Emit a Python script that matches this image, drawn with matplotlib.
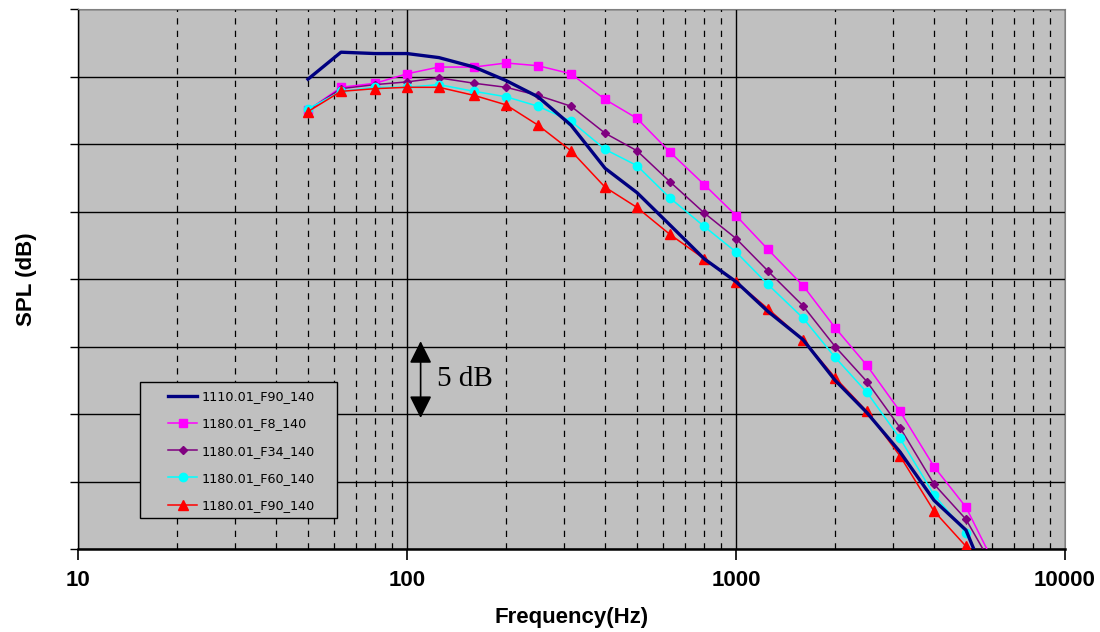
import numpy as np
import matplotlib.pyplot as plt
from matplotlib.ticker import LogLocator, NullFormatter, FixedLocator
from matplotlib.patches import Rectangle

# 1/3 octave centre frequencies (Hz)
freq = [50, 63, 80, 100, 125, 160, 200, 250, 315, 400, 500, 630, 800,
        1000, 1250, 1600, 2000, 2500, 3150, 4000, 5000, 6300]

# relative SPL in dB (axis has no absolute labels, 5 dB per grid line)
spl_1110_f90 = [34.8, 36.8, 36.7, 36.7, 36.4, 35.7, 34.7, 33.5, 31.4, 28.2, 26.4,
                24.0, 21.5, 19.8, 17.6, 15.5, 12.5, 10.1, 7.2, 3.6, 1.4, -4.5]
spl_1180_f8 = [32.5, 34.2, 34.5, 35.2, 35.7, 35.7, 36.0, 35.8, 35.2, 33.3, 31.9,
               29.4, 27.0, 24.7, 22.2, 19.5, 16.4, 13.6, 10.2, 6.1, 3.1, -1.8]
spl_1180_f34 = [32.5, 34.1, 34.4, 34.6, 34.9, 34.5, 34.2, 33.6, 32.8, 30.8, 29.5,
                27.2, 24.9, 23.0, 20.6, 18.0, 15.0, 12.4, 9.0, 4.8, 2.2, -2.1]
spl_1180_f60 = [32.6, 33.9, 34.2, 34.2, 34.4, 33.9, 33.5, 32.8, 31.7, 29.6, 28.4,
                26.0, 23.9, 22.0, 19.6, 17.1, 14.2, 11.6, 8.2, 4.0, 1.2, -3.8]
spl_1180_f90 = [32.4, 33.9, 34.1, 34.2, 34.2, 33.6, 32.9, 31.4, 29.5, 26.8, 25.3,
                23.3, 21.5, 19.8, 17.8, 15.5, 12.7, 10.2, 6.9, 2.8, 0.2, -3.8]

fig = plt.figure(figsize=(11, 6.32), dpi=100)
ax = fig.add_axes([78/1100, 83/632, 987/1100, 540/632])
ax.set_facecolor('#C0C0C0')

ax.plot(freq, spl_1110_f90, color='#000080', lw=2.4, label='1110.01_F90_140', zorder=5)
ax.plot(freq, spl_1180_f8, color='#FF00FF', lw=1.1, marker='s', ms=6, label='1180.01_F8_140', zorder=4)
ax.plot(freq, spl_1180_f34, color='#800080', lw=1.1, marker='D', ms=4.5, label='1180.01_F34_140', zorder=4)
ax.plot(freq, spl_1180_f60, color='#00FFFF', lw=1.1, marker='o', ms=6, label='1180.01_F60_140', zorder=4)
ax.plot(freq, spl_1180_f90, color='#FF0000', lw=1.1, marker='^', ms=6.5, label='1180.01_F90_140', zorder=4)

ax.set_xscale('log')
ax.set_xlim(10, 10000)
ax.set_ylim(0, 40)

ax.xaxis.set_major_locator(FixedLocator([10, 100, 1000, 10000]))
ax.xaxis.set_major_formatter(plt.FuncFormatter(lambda v, p: '%d' % v))
ax.xaxis.set_minor_locator(LogLocator(base=10, subs=np.arange(2, 10)))
ax.xaxis.set_minor_formatter(NullFormatter())
ax.yaxis.set_major_locator(FixedLocator(np.arange(0, 41, 5)))
ax.set_yticklabels([])

ax.grid(True, which='major', axis='y', color='black', lw=1.0)
ax.grid(True, which='major', axis='x', color='black', lw=1.0)
ax.grid(True, which='minor', axis='x', color='black', lw=0.9, linestyle=(0, (5, 5)))
ax.set_axisbelow(True)

ax.tick_params(axis='x', which='major', direction='out', length=8, width=1.2, pad=7)
ax.tick_params(axis='x', which='minor', length=0)
ax.tick_params(axis='y', which='major', direction='out', length=6, width=1)
for lbl in ax.get_xticklabels():
    lbl.set_fontfamily('Liberation Sans')
    lbl.set_fontweight('bold')
    lbl.set_fontsize(16)

ax.spines['bottom'].set_linewidth(1.8)
ax.spines['left'].set_linewidth(1.0)
ax.spines['top'].set_color('#808080')
ax.spines['right'].set_color('#808080')

ax.set_xlabel('Frequency(Hz)', fontsize=16, fontweight='bold',
              family='Liberation Sans', labelpad=12)
ax.set_ylabel('SPL (dB)', fontsize=16, fontweight='bold',
              family='Liberation Sans', labelpad=20)

# 5 dB scale arrow
ax.annotate('', xy=(110, 9.5), xytext=(110, 15.6),
            arrowprops=dict(arrowstyle='<|-|>', color='black', lw=1.2, mutation_scale=34))
ax.text(123, 12.6, '5 dB', fontsize=21, family='Liberation Serif', va='center', ha='left')

# legend box drawn separately so padding matches
ax.add_patch(Rectangle((62/987, 31/540), 197/987, 136/540, transform=ax.transAxes,
                       facecolor='#C0C0C0', edgecolor='black', lw=1.0, zorder=6))
leg = ax.legend(loc='upper left', bbox_to_anchor=(90/987, 159/540), fontsize=9.2,
                frameon=False, handlelength=2.3, handletextpad=0.3,
                borderpad=0, borderaxespad=0, labelspacing=1.12)
leg.set_zorder(7)

fig.savefig('out.png', dpi=100)
